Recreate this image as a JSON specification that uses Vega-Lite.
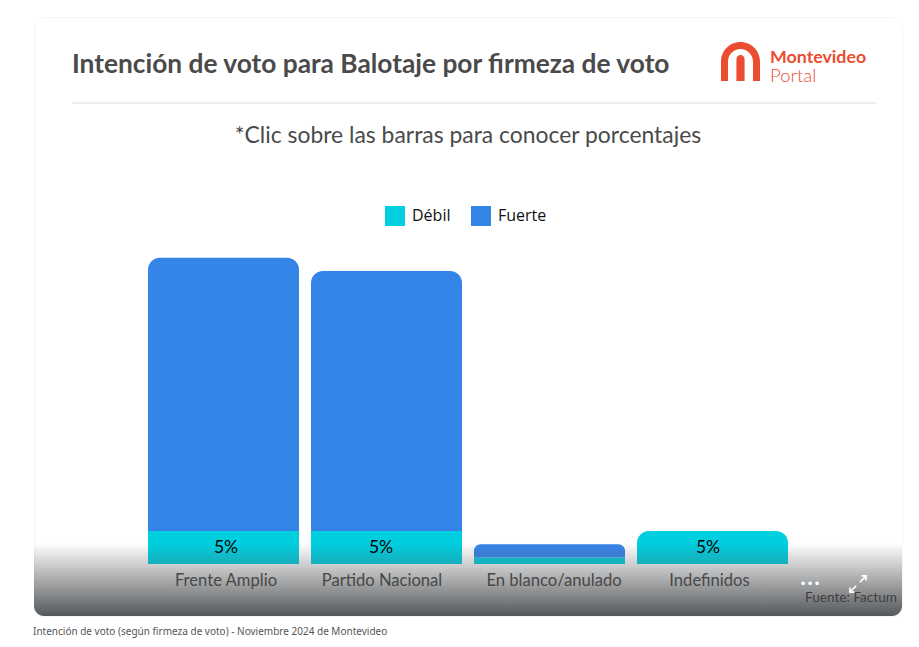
{
  "$schema": "https://vega.github.io/schema/vega-lite/v6.json",
  "description": "Intención de voto para Balotaje por firmeza de voto",
  "width": 868,
  "height": 599,
  "autosize": "none",
  "padding": {"left": 34, "top": 17, "right": 17, "bottom": 31},
  "background": "white",
  "view": {"fill": "white", "stroke": "#f5f5f5", "cornerRadius": 10},
  "config": {"font": "Lato"},
  "title": {
    "text": "Intención de voto para Balotaje por firmeza de voto",
    "anchor": "start",
    "frame": "group",
    "dx": 38,
    "dy": 61,
    "offset": 0,
    "font": "Lato",
    "fontSize": 26.3,
    "fontWeight": "bold",
    "color": "#4a4a4a"
  },
  "data": {
    "values": [
      {"partido": "Frente Amplio", "firmeza": "Débil", "valor": 5, "etiqueta": "5%"},
      {"partido": "Frente Amplio", "firmeza": "Fuerte", "valor": 41.4},
      {"partido": "Partido Nacional", "firmeza": "Débil", "valor": 5, "etiqueta": "5%"},
      {"partido": "Partido Nacional", "firmeza": "Fuerte", "valor": 39.4},
      {"partido": "En blanco/anulado", "firmeza": "Débil", "valor": 1},
      {"partido": "En blanco/anulado", "firmeza": "Fuerte", "valor": 2},
      {"partido": "Indefinidos", "firmeza": "Débil", "valor": 5, "etiqueta": "5%"}
    ]
  },
  "transform": [
    {"stack": "valor", "groupby": ["partido"], "sort": [{"field": "firmeza", "order": "ascending"}], "as": ["y0", "y1"]},
    {"joinaggregate": [{"op": "max", "field": "y1", "as": "tope"}], "groupby": ["partido"]}
  ],
  "encoding": {
    "x": {
      "field": "partido",
      "type": "nominal",
      "title": null,
      "scale": {
        "domain": ["Frente Amplio", "Partido Nacional", "En blanco/anulado", "Indefinidos"],
        "range": [108, 760],
        "paddingInner": 0.0736,
        "paddingOuter": 0.0368
      },
      "axis": null
    }
  },
  "layer": [
    {
      "transform": [{"filter": "datum.y1 < datum.tope"}],
      "mark": {"type": "bar"},
      "encoding": {
        "y": {"field": "y1", "type": "quantitative", "stack": null, "axis": null, "scale": {"domain": [-7.88, 82.88], "nice": false, "zero": false}},
        "y2": {"field": "y0"},
        "color": {
          "field": "firmeza",
          "type": "nominal",
          "scale": {"domain": ["Débil", "Fuerte"], "range": ["#00cfe0", "#3584e8"]},
          "legend": {
            "title": null,
            "orient": "none",
            "legendX": 351,
            "legendY": 189,
            "direction": "horizontal",
            "symbolType": "square",
            "symbolSize": 400,
            "symbolStrokeWidth": 0,
            "symbolOpacity": 1,
            "labelFont": "Open Sans",
            "labelFontSize": 16,
            "labelColor": "#111111",
            "labelOffset": 7,
            "columnPadding": 20
          }
        }
      }
    },
    {
      "transform": [{"filter": "datum.y1 == datum.tope"}],
      "mark": {"type": "bar", "cornerRadiusTopLeft": 12, "cornerRadiusTopRight": 12},
      "encoding": {
        "y": {"field": "y1", "type": "quantitative", "stack": null},
        "y2": {"field": "y0"},
        "color": {"field": "firmeza", "type": "nominal"}
      }
    },
    {
      "data": {"values": [{"zona": "pie"}]},
      "mark": {
        "type": "rect",
        "cornerRadiusBottomLeft": 10,
        "cornerRadiusBottomRight": 10,
        "fill": {
          "gradient": "linear",
          "x1": 0, "y1": 0, "x2": 0, "y2": 1,
          "stops": [
            {"offset": 0, "color": "rgba(85,88,91,0)"},
            {"offset": 1, "color": "rgba(85,88,91,1)"}
          ]
        }
      },
      "encoding": {
        "x": {"value": 0},
        "x2": {"value": 868},
        "y": {"datum": 3.18},
        "y2": {"datum": -7.88}
      }
    },
    {
      "transform": [{"filter": "datum.firmeza == 'Débil'"}],
      "mark": {
        "type": "text",
        "font": "Lato",
        "fontSize": 16.6,
        "baseline": "middle",
        "dx": {"expr": "datum.partido == 'Frente Amplio' ? 2.5 : datum.partido == 'Partido Nacional' ? -4.5 : datum.partido == 'En blanco/anulado' ? 4.5 : -3"}
      },
      "encoding": {
        "y": {"datum": -2.6},
        "text": {"field": "partido", "type": "nominal"},
        "color": {"value": "#484848"}
      }
    },
    {
      "transform": [{"filter": "datum.firmeza == 'Débil' && datum.valor >= 4"}],
      "mark": {
        "type": "text",
        "font": "Lato",
        "fontSize": 17.5,
        "baseline": "middle",
        "dy": 17.5,
        "dx": {"expr": "datum.partido == 'Frente Amplio' ? 2.5 : datum.partido == 'Partido Nacional' ? -5.5 : -4.5"}
      },
      "encoding": {
        "y": {"field": "y1", "type": "quantitative", "stack": null},
        "text": {"field": "etiqueta", "type": "nominal"},
        "color": {"value": "#000000"}
      }
    },
    {
      "data": {"values": [{"linea": "cabecera"}]},
      "mark": {"type": "rule", "color": "#dcdcdc", "xOffset": -76, "x2Offset": 88},
      "encoding": {
        "x": {"datum": "Frente Amplio", "bandPosition": 0},
        "x2": {"datum": "Indefinidos", "bandPosition": 1},
        "y": {"datum": 69.85}
      }
    },
    {
      "data": {"values": [{"texto": "*Clic sobre las barras para conocer porcentajes"}]},
      "mark": {"type": "text", "font": "Lato", "fontSize": 22.9, "color": "#4a4a4a", "baseline": "middle"},
      "encoding": {"text": {"field": "texto"}, "y": {"datum": 64.9}, "x": null}
    },
    {
      "data": {"values": [{"texto": "Intención de voto (según firmeza de voto) - Noviembre 2024 de Montevideo"}]},
      "mark": {"type": "text", "font": "Noto Sans", "fontSize": 10, "color": "#555555", "align": "left", "baseline": "middle", "dx": -435, "clip": false},
      "encoding": {"text": {"field": "texto"}, "y": {"datum": -10.25}, "x": null}
    },
    {
      "data": {"values": [{"texto": "Fuente: Factum"}]},
      "mark": {"type": "text", "font": "Lato", "fontSize": 13.6, "color": "#3f3f3f", "align": "right", "baseline": "middle", "dx": 429},
      "encoding": {"text": {"field": "texto"}, "y": {"datum": -5.2}, "x": null}
    },
    {
      "data": {"values": [{"texto": "•••"}]},
      "mark": {"type": "text", "font": "DejaVu Sans", "fontSize": 12, "color": "#ffffff", "baseline": "middle", "dx": 342},
      "encoding": {"text": {"field": "texto"}, "y": {"datum": -3.03}, "x": null}
    },
    {
      "data": {"values": [{"icono": "expandir"}]},
      "mark": {
        "type": "point",
        "shape": "M0.2 -0.2 L0.9 -0.9 M0.4 -0.9 H0.9 V-0.4 M-0.2 0.2 L-0.9 0.9 M-0.4 0.9 H-0.9 V0.4",
        "size": 324,
        "filled": false,
        "stroke": "#ffffff",
        "strokeWidth": 1.6,
        "opacity": 1,
        "xOffset": 390
      },
      "encoding": {"y": {"datum": -3.03}, "x": null}
    },
    {
      "data": {"values": [{"icono": "logo"}]},
      "mark": {
        "type": "point",
        "shape": "M-1 1 V0 A1 1 0 0 1 1 0 V1 H0.64 V0 A0.64 0.64 0 0 0 -0.64 0 V1 Z M-0.21 1 V-0.12 A0.21 0.21 0 0 1 0.21 -0.12 V1 Z",
        "size": 1521,
        "filled": true,
        "fill": "#eb4d30",
        "strokeWidth": 0,
        "opacity": 1,
        "xOffset": 272.5
      },
      "encoding": {"y": {"datum": 76.14}, "x": null}
    },
    {
      "data": {"values": [{"texto": "Montevideo"}]},
      "mark": {"type": "text", "font": "Lato", "fontSize": 17.8, "fontWeight": "bold", "color": "#eb4d30", "align": "left", "baseline": "middle", "dx": 302},
      "encoding": {"text": {"field": "texto"}, "y": {"datum": 76.7}, "x": null}
    },
    {
      "data": {"values": [{"texto": "Portal"}]},
      "mark": {"type": "text", "font": "Lato", "fontSize": 18.5, "fontWeight": 300, "color": "#eb4d30", "align": "left", "baseline": "middle", "dx": 302},
      "encoding": {"text": {"field": "texto"}, "y": {"datum": 73.9}, "x": null}
    }
  ]
}
